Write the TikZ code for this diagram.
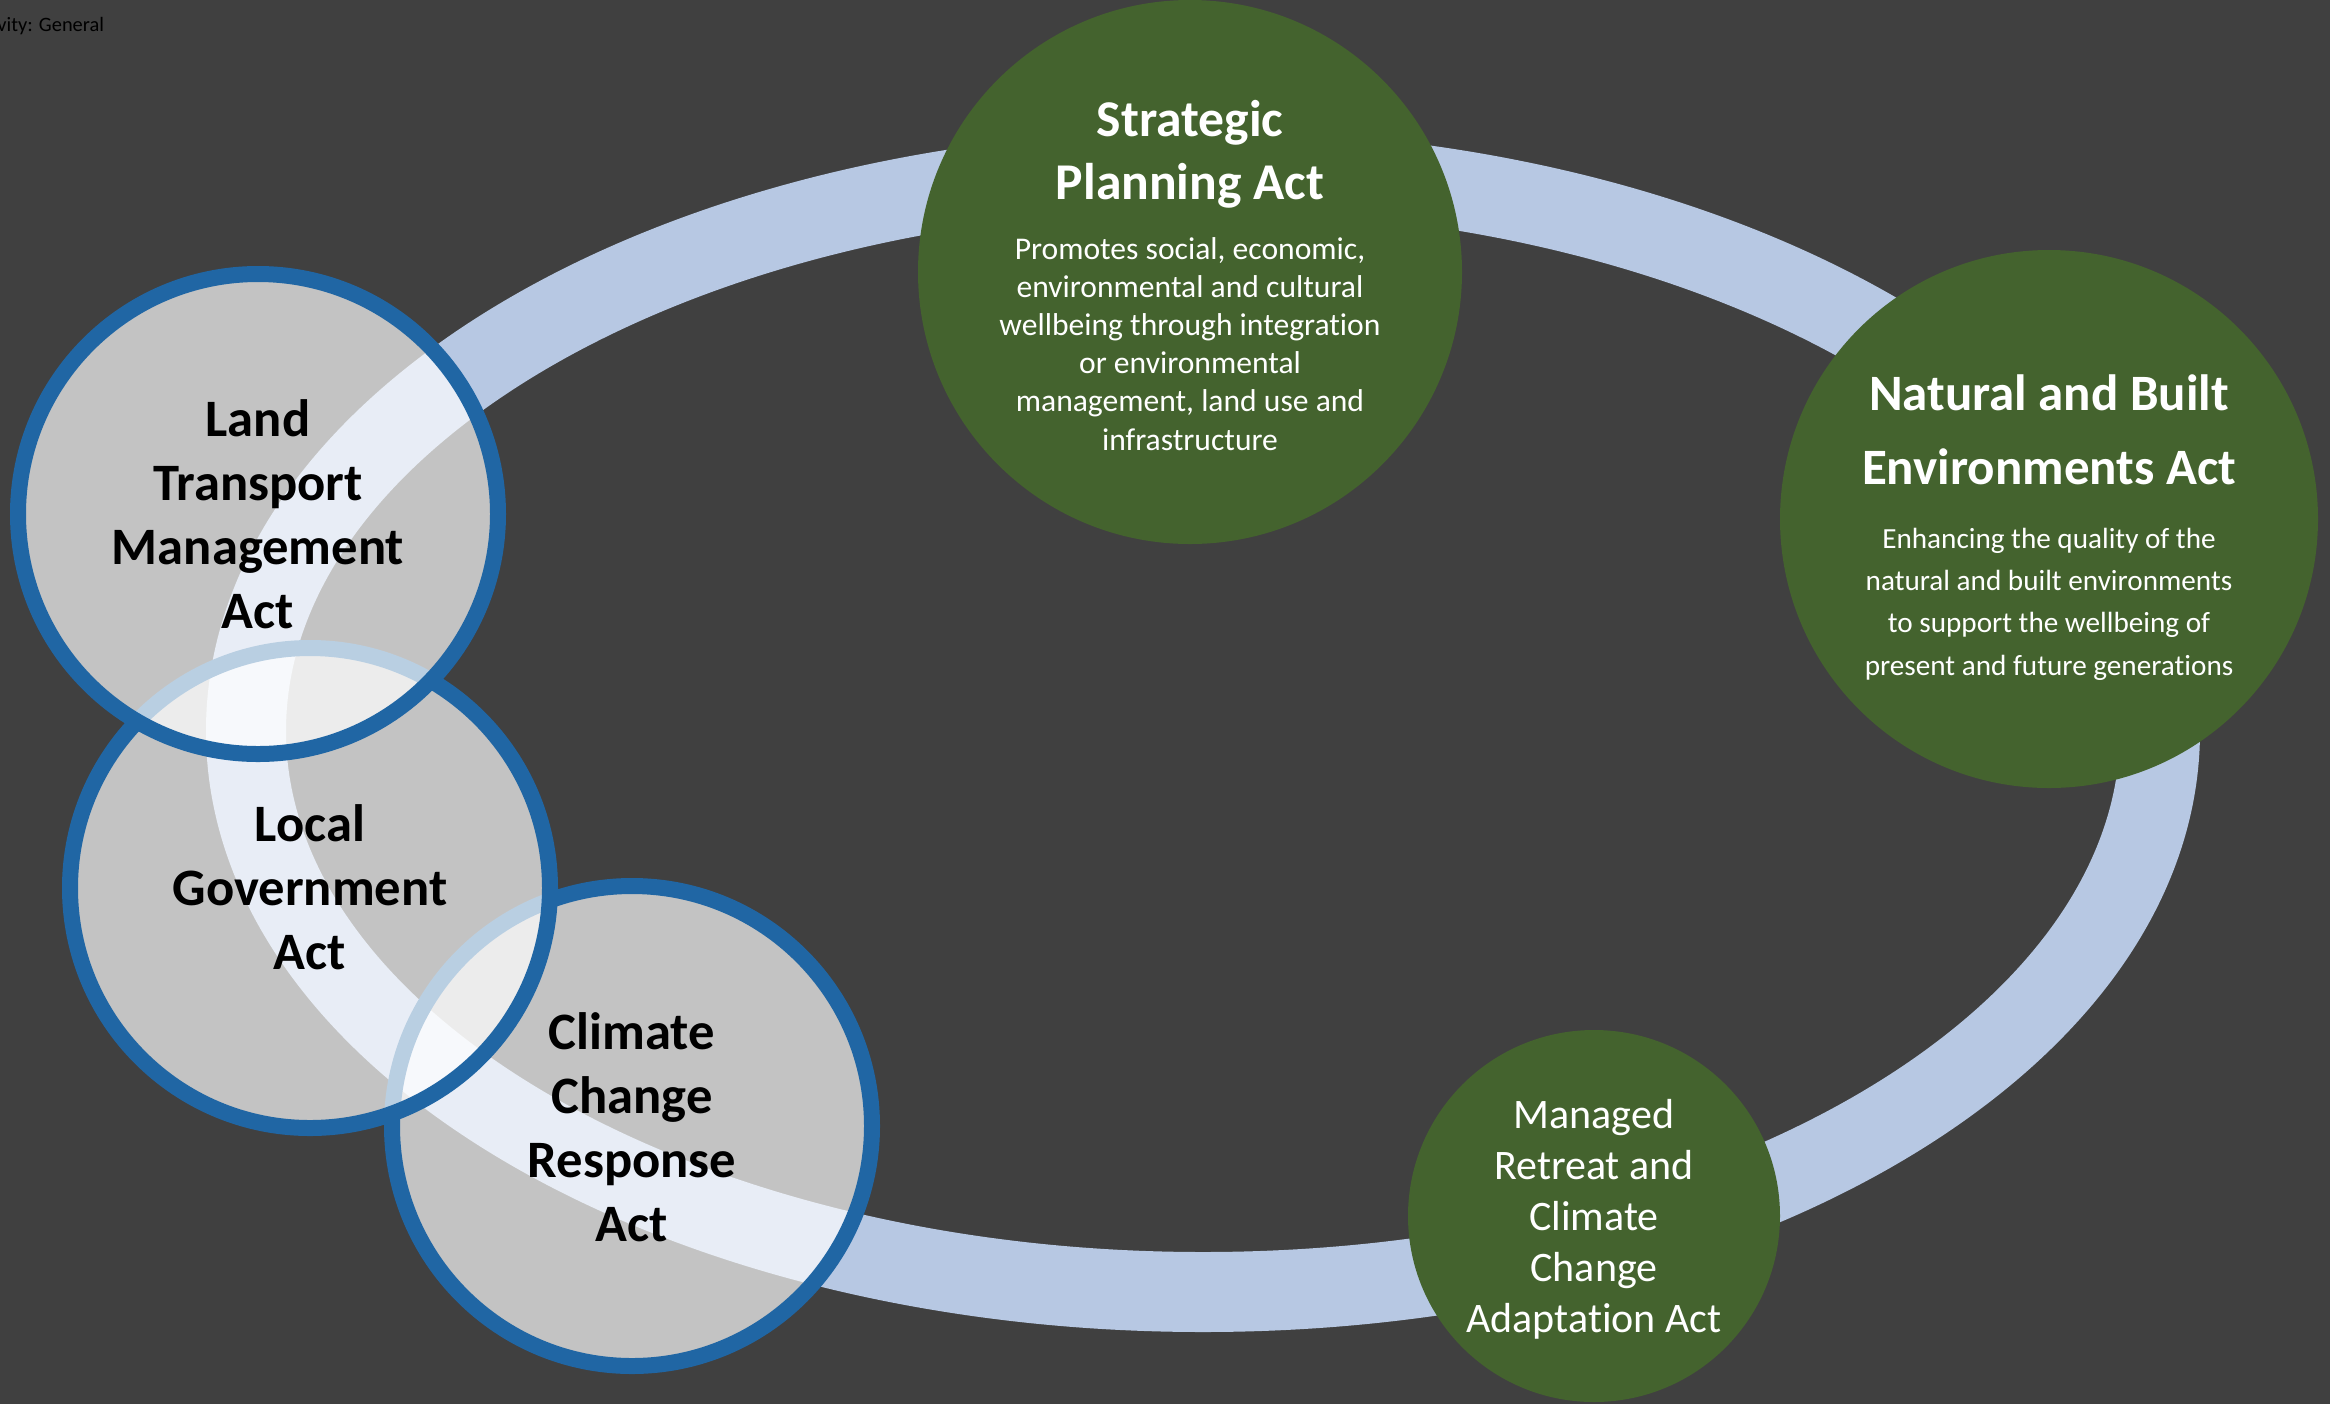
\documentclass[tikz,border=0pt]{standalone}
\usepackage{fontspec}
\setmainfont{Carlito}[Ligatures={NoCommon}]
\definecolor{bgc}{HTML}{404040}
\definecolor{ringc}{HTML}{B7C8E3}
\definecolor{greenc}{HTML}{44632E}
\definecolor{bluec}{HTML}{2066A4}
\tikzset{
  greencirc/.style={circle, fill=greenc, inner sep=0pt, outer sep=0pt},
  greycirc/.style={circle, fill=white, fill opacity=0.69, draw=bluec, line width=8pt,
    minimum size=240pt, inner sep=0pt},
  ringpath/.style={draw=ringc, line width=40pt},
  txt/.style={anchor=base, inner sep=0pt},
  gtitle/.style={txt, text=white, font=\fontsize{25.8pt}{30pt}\selectfont\bfseries},
  gbody/.style={txt, text=white, font=\fontsize{15.8pt}{19pt}\selectfont},
  nbody/.style={txt, text=white, font=\fontsize{14.6pt}{18pt}\selectfont},
  mbody/.style={txt, text=white, font=\fontsize{21pt}{25pt}\selectfont},
  greytext/.style={txt, text=black, font=\fontsize{26.3pt}{31pt}\selectfont\bfseries}
}
\begin{document}
\begin{tikzpicture}[x=0.5pt, y=-0.5pt]
\useasboundingbox (0,0) rectangle (2330,1404);
\fill[bgc] (0,0) rectangle (2330,1404);
\node[anchor=base west, inner sep=0pt, text=black, font=\fontsize{10.2pt}{12pt}\selectfont] (label) at (-3,31) {vity: General};

% ring
\draw[ringpath] (1203,731) ellipse [x radius=957, y radius=561];

% green circles
\node[greencirc, minimum size=272pt] (spa) at (1190,272) {};
\node[greencirc, minimum size=269pt] (nbea) at (2049,519) {};
\node[greencirc, minimum size=186pt] (mrcca) at (1594,1216) {};

% grey circles (bottom to top)
\node[greycirc] (ccra) at (632,1126) {};
\node[greycirc] (lga) at (310,888) {};
\node[greycirc] (ltma) at (258,514) {};

% texts
\foreach \t [count=\i from 0] in {Strategic, Planning Act}
  \node[gtitle] (spat\i) at (1190,136+63*\i) {\t};
\foreach \t [count=\i from 0] in {{Promotes social, economic,}, {environmental and cultural}, {wellbeing through integration}, {or environmental}, {management, land use and}, {infrastructure}}
  \node[gbody] (spab\i) at (1190,259+38.2*\i) {\t};

\foreach \t [count=\i from 0] in {Natural and Built, Environments Act}
  \node[gtitle, font=\fontsize{25.5pt}{30pt}\selectfont\bfseries] (nbeat\i) at (2049,410+74*\i) {\t};
\foreach \t [count=\i from 0] in {Enhancing the quality of the, natural and built environments, to support the wellbeing of, present and future generations}
  \node[nbody] (nbeab\i) at (2049,548+42.4*\i) {\t};

\foreach \t [count=\i from 0] in {Managed, Retreat and, Climate, Change, Adaptation Act}
  \node[mbody] (mrccat\i) at (1594,1128+51*\i) {\t};

\foreach \t [count=\i from 0] in {Land, Transport, Management, Act}
  \node[greytext] (ltmat\i) at (258,436+64*\i) {\t};
\foreach \t [count=\i from 0] in {Local, Government, Act}
  \node[greytext] (lgat\i) at (310,841+64*\i) {\t};
\foreach \t [count=\i from 0] in {Climate, Change, Response, Act}
  \node[greytext] (ccrat\i) at (632,1049+64*\i) {\t};
\end{tikzpicture}
\end{document}
